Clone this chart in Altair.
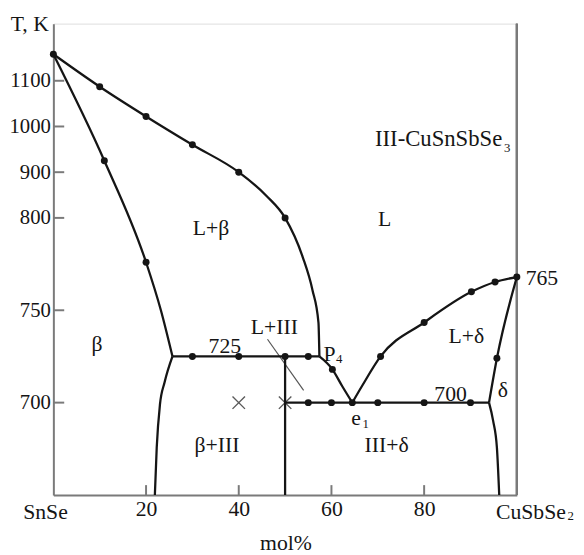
import altair as alt
import pandas as pd

FONT = "Liberation Serif"
INK = "#151515"
AXIS_GREY = "#7a7a7a"

# ---------------- data (mol% CuSbSe2, T in K) ----------------
liq_beta_x = [0, 10, 20, 30, 40, 46, 50, 53.8, 55.9, 57.2, 57.4]
liq_beta_T = [1158, 1087, 1022, 960, 900, 848, 800, 778.8, 761, 743.3, 725]
sol_beta_x = [0, 11, 20, 23.2, 25.7]
sol_beta_T = [1158, 925, 776, 750, 725]
solv_beta_x = [21.9, 22.3, 23.0, 24.0, 25.7]
solv_beta_T = [650, 675.6, 699, 711, 725]
p4_e1_x = [57.4, 60.2, 62.3, 64.5]
p4_e1_T = [725, 718, 709, 700]
liq_delta_x = [64.5, 66.6, 70.6, 80, 90.2, 95.3, 100]
liq_delta_T = [700, 709, 725, 743.4, 760, 765.3, 768]
sol_delta_x = [94, 95.7, 100]
sol_delta_T = [700, 724, 768]
solv_delta_x = [94, 94.9, 95.7, 96.2]
solv_delta_T = [700, 690, 675.6, 650]

# straight segments
peritectic_x = [25.7, 57.4]
peritectic_T = [725, 725]
eutectic_x = [50, 94]
eutectic_T = [700, 700]
compound_x = [50, 50]
compound_T = [725, 650]

# experimental points
dot_x = [0, 10, 20, 30, 40, 50, 11, 20, 30, 40, 50, 55, 60.2,
         55, 60, 64.5, 70, 80, 90, 70.6, 80, 90.2, 95.3, 100, 95.7]
dot_T = [1158, 1087, 1022, 960, 900, 800, 925, 776, 725, 725, 725, 725, 718,
         700, 700, 700, 700, 700, 700, 725, 743.4, 760, 765.3, 768, 724]
cross_x = [40, 50]
cross_T = [700, 700]

# leader line for L+III
leader_x = [46.2, 54.0]
leader_T = [734.3, 706.6]

# axes
y_ticks = [700, 750, 800, 900, 1000, 1100]
x_ticks = [20, 40, 60, 80]

# annotation labels (anchor in data coordinates)
center_labels = ["L+β", "L", "L+δ", "δ", "700", "β", "725", "L+III",
                 "β+III", "III+δ", "P", "SnSe", "mol%", "T, K"]
center_lx = [34.0, 71.5, 89.1, 97.0, 85.7, 9.4, 37.0, 47.7,
             35.3, 71.9, 59.6, -1.7, 50.2, -5.1]
center_lT = [794.7, 799.5, 736, 706.6, 704.4, 731.7, 730.6, 740.7,
             677.2, 677.2, 726.3, 640.9, 623.8, 1222.9]
left_labels = ["765", "CuSbSe"]
left_lx = [101.9, 95.5]
left_lT = [767.4, 640.9]
compound_label = ["III-CuSnSbSe"]
compound_lx = [69.4]
compound_lT = [971.5]
e_label = ["e"]
e_lx = [65.3]
e_lT = [687.9]
sub_labels = ["4", "1", "3", "2"]
sub_lx = [61.7, 67.4, 97.9, 111.6]
sub_lT = [723.6, 688.4, 953.2, 638.8]

# ---------------- build tables ----------------
def frame(name, xs, Ts):
    return pd.DataFrame({"curve": name, "x": xs, "T": Ts, "i": range(len(xs))})

curves = pd.concat([
    frame("liq_beta", liq_beta_x, liq_beta_T),
    frame("sol_beta", sol_beta_x, sol_beta_T),
    frame("solv_beta", solv_beta_x, solv_beta_T),
    frame("p4_e1", p4_e1_x, p4_e1_T),
    frame("liq_delta", liq_delta_x, liq_delta_T),
    frame("sol_delta", sol_delta_x, sol_delta_T),
    frame("solv_delta", solv_delta_x, solv_delta_T),
])
straight = pd.concat([
    frame("peritectic", peritectic_x, peritectic_T),
    frame("eutectic", eutectic_x, eutectic_T),
    frame("compound", compound_x, compound_T),
])
dots = pd.DataFrame({"x": dot_x, "T": dot_T})
crosses = pd.DataFrame({"x": cross_x, "T": cross_T})
leader = frame("leader", leader_x, leader_T)
ctext = pd.DataFrame({"t": center_labels, "x": center_lx, "T": center_lT})
ltext = pd.DataFrame({"t": left_labels, "x": left_lx, "T": left_lT})
cptext = pd.DataFrame({"t": compound_label, "x": compound_lx, "T": compound_lT})
etext = pd.DataFrame({"t": e_label, "x": e_lx, "T": e_lT})
stext = pd.DataFrame({"t": sub_labels, "x": sub_lx, "T": sub_lT})
ytick_df = pd.DataFrame({"T": y_ticks})
xtick_df = pd.DataFrame({"x": x_ticks})

W, H = 470, 478
xscale = alt.Scale(domain=[0, 100], range=[0, W], nice=False, zero=False)
yscale = alt.Scale(domain=[650, 800, 1225], range=[H, 197, 0], nice=False, zero=False)

xaxis = alt.Axis(values=x_ticks, title=None, ticks=False, grid=False, format="d",
                 labelFont=FONT, labelFontSize=22, labelColor=INK, labelPadding=4,
                 labelFlush=False, labelOverlap=False,
                 domainColor=AXIS_GREY, domainWidth=2)
yaxis = alt.Axis(values=y_ticks, title=None, ticks=False, grid=False, format="d",
                 labelFont=FONT, labelFontSize=21, labelColor=INK, labelPadding=3,
                 labelFlush=False, labelOverlap=False,
                 domainColor=AXIS_GREY, domainWidth=2)

X = alt.X("x:Q", scale=xscale, axis=xaxis)
Y = alt.Y("T:Q", scale=yscale, axis=yaxis)

curve_layer = alt.Chart(curves).mark_line(
    interpolate="monotone", color=INK, strokeWidth=2.3
).encode(x=X, y=Y, detail="curve:N")

straight_layer = alt.Chart(straight).mark_line(
    color=INK, strokeWidth=2.3
).encode(x=X, y=Y, detail="curve:N", order="i:Q")

leader_layer = alt.Chart(leader).mark_line(
    color="#555555", strokeWidth=1.2
).encode(x=X, y=Y, order="i:Q")

dot_layer = alt.Chart(dots).mark_circle(size=50, color=INK, opacity=1).encode(x=X, y=Y)

cross_layer = alt.Chart(crosses).mark_point(
    shape="M-1,-1L1,1M1,-1L-1,1", size=160, color=INK, strokeWidth=1.4, filled=False
).encode(x=X, y=Y)

ytick_layer = alt.Chart(ytick_df).mark_rule(color=AXIS_GREY, strokeWidth=2).encode(
    y=Y, x=alt.value(0), x2=alt.value(11))
xtick_layer = alt.Chart(xtick_df).mark_rule(color=AXIS_GREY, strokeWidth=2).encode(
    x=X, y=alt.value(H), y2=alt.value(H - 10))
right_frame = alt.Chart(xtick_df).mark_rule(color=AXIS_GREY, strokeWidth=2).encode(
    x=alt.value(W), y=alt.value(0), y2=alt.value(H))

ctext_layer = alt.Chart(ctext).mark_text(
    font=FONT, fontSize=22, color=INK, align="center", baseline="middle"
).encode(x=X, y=Y, text="t:N")
ltext_layer = alt.Chart(ltext).mark_text(
    font=FONT, fontSize=22, color=INK, align="left", baseline="middle"
).encode(x=X, y=Y, text="t:N")
cptext_layer = alt.Chart(cptext).mark_text(
    font=FONT, fontSize=23, color=INK, align="left", baseline="middle"
).encode(x=X, y=Y, text="t:N")
etext_layer = alt.Chart(etext).mark_text(
    font=FONT, fontSize=22, color=INK, align="center", baseline="alphabetic"
).encode(x=X, y=Y, text="t:N")
stext_layer = alt.Chart(stext).mark_text(
    font=FONT, fontSize=13, color=INK, align="center", baseline="middle"
).encode(x=X, y=Y, text="t:N")

chart = alt.layer(
    right_frame, ytick_layer, xtick_layer, leader_layer, straight_layer, curve_layer,
    dot_layer, cross_layer, ctext_layer, ltext_layer, cptext_layer, etext_layer, stext_layer
).properties(
    width=W, height=H,
    autosize=alt.AutoSizeParams(type="none"),
    padding={"left": 46, "top": 12, "right": 60, "bottom": 57},
).configure_view(stroke=None).configure(background="white")

chart.save("out.html", embed_options={"renderer": "svg", "actions": False})
